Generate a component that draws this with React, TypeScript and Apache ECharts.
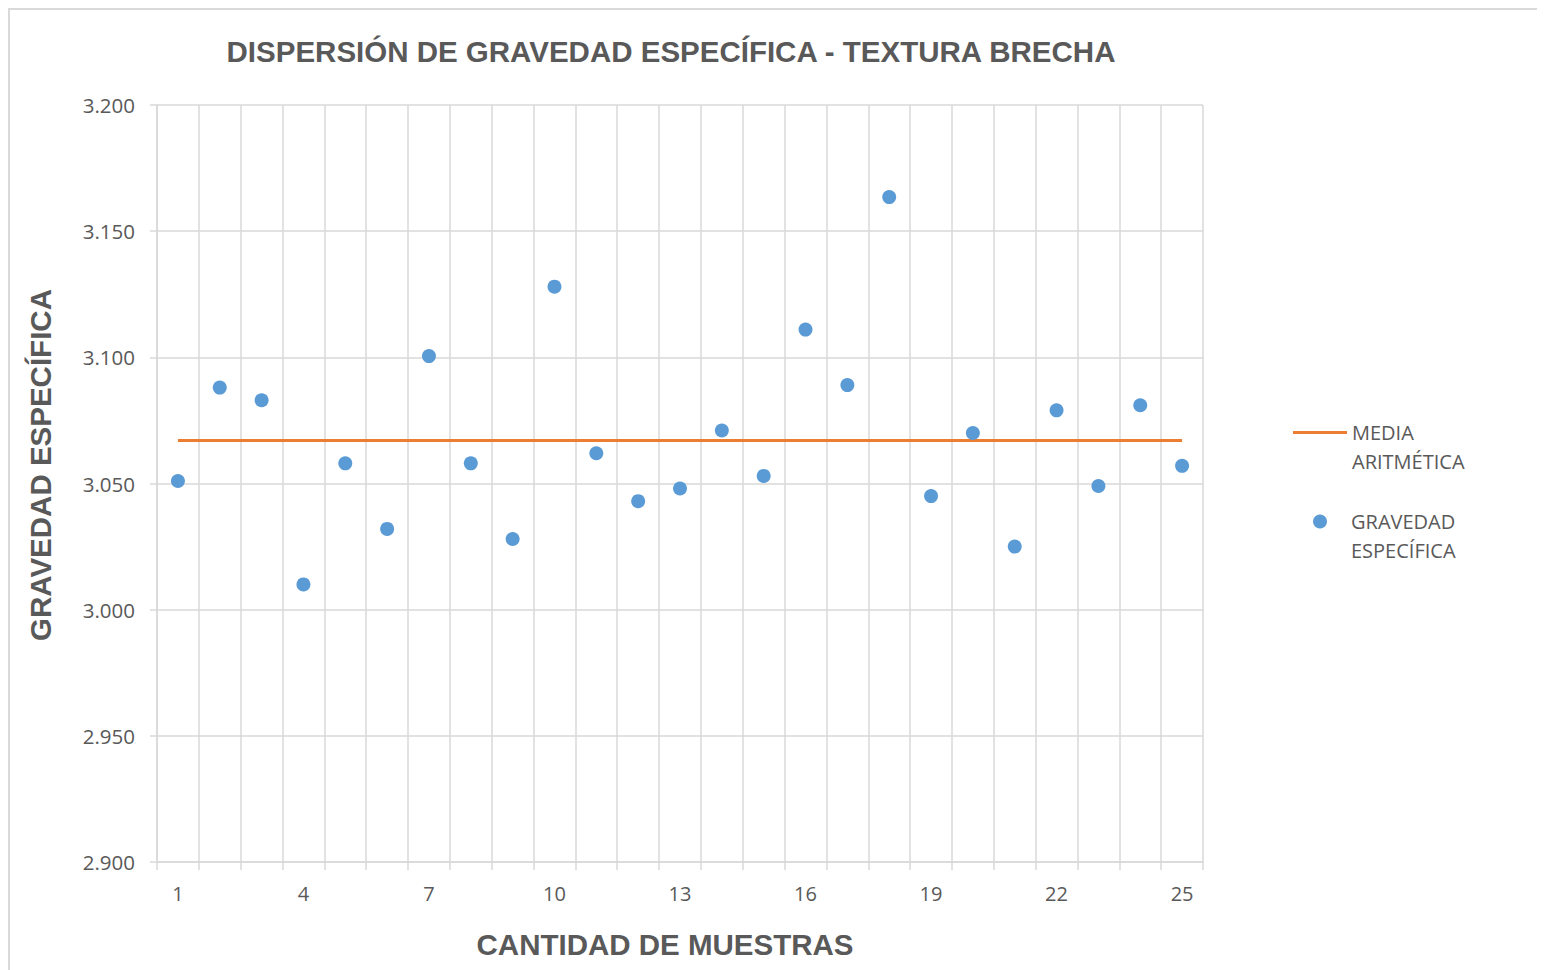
import React, { useEffect, useRef } from "react";
import * as echarts from "echarts";

const CATEGORIES = ["1","2","3","4","5","6","7","8","9","10","11","12","13","14","15","16","17","18","19","20","21","22","23","24","25"];
const GRAVEDAD = [3.051,3.088,3.083,3.010,3.058,3.032,3.1005,3.058,3.028,3.128,3.062,3.043,3.048,3.071,3.053,3.111,3.089,3.1635,3.045,3.070,3.025,3.079,3.049,3.081,3.057];
const MEDIA = 3.067;
const Y_MIN = 2.9;
const Y_MAX = 3.2;
const Y_STEP = 0.05;

const TITLE = "DISPERSIÓN DE GRAVEDAD ESPECÍFICA - TEXTURA BRECHA";
const X_NAME = "CANTIDAD DE MUESTRAS";
const Y_NAME = "GRAVEDAD ESPECÍFICA";
const S_MEDIA = "MEDIA ARITMÉTICA";
const S_GRAV = "GRAVEDAD ESPECÍFICA";

const TEXT = "#595959";
const GRID = "#d9d9d9";
const FONT = "'Open Sans', 'Noto Sans', sans-serif";
const BOLD = "'Liberation Sans', Arial, sans-serif";

export default function App() {
  const ref = useRef<HTMLDivElement>(null);
  useEffect(() => {
    if (!ref.current) return;
    const chart = echarts.init(ref.current, null, { renderer: "svg" });
    chart.setOption({
      animation: false,
      backgroundColor: "#ffffff",
      graphic: [
        { type: "rect", shape: { x: 1, y: 1, width: 1700, height: 1100 }, style: { fill: "none", stroke: GRID, lineWidth: 2 }, silent: true },
        { type: "text", x: 663, y: 43, style: { text: TITLE, fill: TEXT, font: `bold 29.5px ${BOLD}`, align: "center", verticalAlign: "middle" } },
        { type: "text", x: 657, y: 936, style: { text: X_NAME, fill: TEXT, font: `bold 29.5px ${BOLD}`, align: "center", verticalAlign: "middle" } },
        { type: "text", x: 32, y: 457, rotation: Math.PI / 2, style: { text: Y_NAME, fill: TEXT, font: `bold 29.5px ${BOLD}`, align: "center", verticalAlign: "middle" } },
      ],
      grid: { left: 149, top: 97, width: 1046, height: 757, containLabel: false },
      legend: [
        {
          data: [{ name: S_MEDIA, icon: "rect" }],
          left: 1285,
          top: 381,
          padding: 0,
          orient: "vertical",
          itemWidth: 54,
          itemHeight: 3,
          formatter: () => " \nMEDIA\nARITMÉTICA",
          textStyle: { color: TEXT, fontSize: 20, fontFamily: FONT, lineHeight: 29 },
        },
        {
          data: [{ name: S_GRAV, icon: "circle" }],
          left: 1305,
          top: 470,
          padding: 0,
          orient: "vertical",
          itemWidth: 14,
          itemHeight: 14,
          formatter: () => " \nGRAVEDAD\nESPECÍFICA",
          textStyle: { color: TEXT, fontSize: 20, fontFamily: FONT, lineHeight: 29, padding: [0, 0, 0, 19] },
        },
      ],
      xAxis: {
        type: "category",
        data: CATEGORIES,
        boundaryGap: true,
        axisLine: { show: true, lineStyle: { color: GRID, width: 1.5 } },
        axisTick: { show: true, interval: 0, length: 8, lineStyle: { color: GRID, width: 1.5 } },
        axisLabel: { interval: 2, color: TEXT, fontSize: 20, fontFamily: FONT, margin: 21 },
        splitLine: { show: true, interval: 0, lineStyle: { color: GRID, width: 1.5 } },
      },
      yAxis: {
        type: "value",
        min: Y_MIN,
        max: Y_MAX,
        interval: Y_STEP,
        axisLine: { show: true, lineStyle: { color: GRID, width: 1.5 } },
        axisTick: { show: true, length: 7, lineStyle: { color: GRID, width: 1.5 } },
        axisLabel: { color: TEXT, fontSize: 20.5, fontFamily: FONT, margin: 22, formatter: (v: number) => v.toFixed(3) },
        splitLine: { show: true, lineStyle: { color: GRID, width: 1.5 } },
      },
      series: [
        {
          name: S_MEDIA,
          type: "line",
          data: CATEGORIES.map(() => MEDIA),
          symbol: "none",
          lineStyle: { color: "#ED7D31", width: 3, opacity: 1 },
          itemStyle: { color: "#ED7D31", opacity: 1 },
          z: 2,
        },
        {
          name: S_GRAV,
          type: "scatter",
          data: GRAVEDAD,
          symbol: "circle",
          symbolSize: 14,
          itemStyle: { color: "#5B9BD5", opacity: 1 },
          z: 3,
        },
      ],
    });
    return () => chart.dispose();
  }, []);
  return <div ref={ref} style={{ width: 1537, height: 962 }} />;
}
